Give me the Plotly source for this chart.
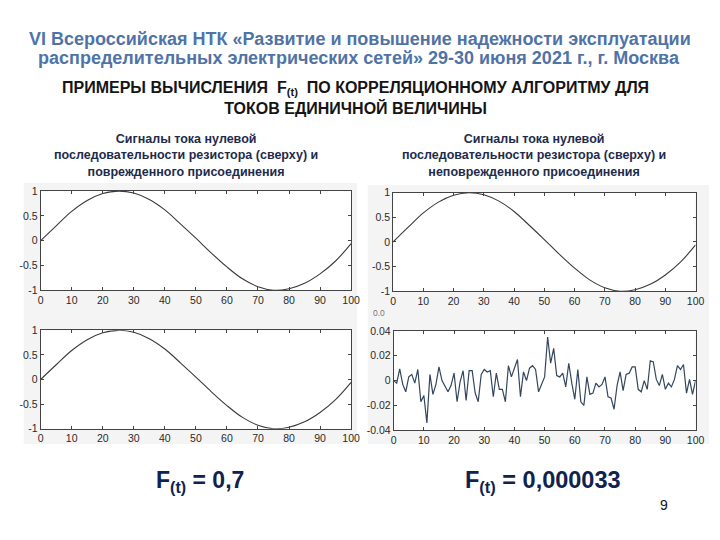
import plotly.graph_objects as go

# ---- data ----
x_sine = [0, 5, 10, 15, 20, 25, 30, 35, 40, 45, 50, 55, 60, 65, 70, 75, 80, 85, 90, 95, 100]
sine_resistor = [0.0, 0.30, 0.59, 0.81, 0.95, 1.0, 0.96, 0.83, 0.62, 0.34, 0.05, -0.25, -0.53,
                 -0.77, -0.93, -1.0, -0.97, -0.86, -0.67, -0.41, -0.06]
sine_faulted = [0.0, 0.30, 0.59, 0.81, 0.95, 1.0, 0.96, 0.83, 0.62, 0.34, 0.05, -0.25, -0.53,
                -0.77, -0.93, -1.0, -0.97, -0.86, -0.67, -0.41, -0.06]

x_noise = list(range(0, 101))
noise_healthy = [0.0, -0.002, 0.0095, -0.003, -0.009, 0.003, 0.005, -0.002, 0.009, -0.017,
                 -0.012, -0.034, 0.005, -0.011, -0.003, 0.011, 0.0, -0.005, -0.009, -0.004,
                 0.006, -0.017, -0.001, 0.008, -0.016, 0.008, 0.008, -0.010, -0.017, 0.005,
                 0.009, 0.007, 0.008, -0.013, 0.006, -0.007, -0.007, -0.017, 0.012, 0.003,
                 0.010, 0.017, -0.013, 0.007, 0.0, 0.010, 0.012, 0.009, -0.009, -0.003,
                 0.003, 0.035, 0.014, 0.026, 0.004, 0.003, 0.006, -0.005, 0.014, -0.002,
                 -0.015, 0.009, -0.017, -0.020, 0.003, -0.011, -0.010, -0.002, -0.005, -0.003,
                 0.003, -0.013, -0.014, -0.023, -0.004, 0.007, -0.008, 0.005, 0.006, 0.011,
                 0.011, -0.007, -0.009, 0.0, -0.007, 0.016, 0.015, 0.001, -0.004, 0.005,
                 -0.007, -0.002, -0.005, 0.001, 0.012, 0.009, 0.013, -0.010, 0.001, -0.011, 0.0]

x_ticks = [0, 10, 20, 30, 40, 50, 60, 70, 80, 90, 100]
sine_ticks = [-1, -0.5, 0, 0.5, 1]
sine_tick_text = ["-1", "-0.5", "0", "0.5", "1"]
noise_ticks = [-0.04, -0.02, 0, 0.02, 0.04]
noise_tick_text = ["-0.04", "-0.02", "0", "0.02", "0.04"]

title_line1 = "VI Всероссийская НТК «Развитие и повышение надежности эксплуатации"
title_line2 = "распределительных электрических сетей» 29-30 июня 2021 г., г. Москва"
subtitle = ("ПРИМЕРЫ ВЫЧИСЛЕНИЯ  F<sub>(t)</sub>  ПО КОРРЕЛЯЦИОННОМУ АЛГОРИТМУ ДЛЯ"
            "<br>ТОКОВ ЕДИНИЧНОЙ ВЕЛИЧИНЫ")
left_header = "Сигналы тока нулевой<br>последовательности резистора (сверху) и<br>поврежденного присоединения"
right_header = "Сигналы тока нулевой<br>последовательности резистора (сверху) и<br>неповрежденного присоединения"
left_result = "F<sub>(t)</sub> = 0,7"
right_result = "F<sub>(t)</sub> = 0,000033"
page_number = "9"

# ---- figure ----
W, H = 720, 540


def px_x(p):
    return p / W


def px_y(p):
    return 1 - p / H


fig = go.Figure()

line_sine = dict(color="#3a3a3a", width=1.1, shape="spline")
fig.add_trace(go.Scatter(x=x_sine, y=sine_resistor, mode="lines", line=line_sine,
                         xaxis="x", yaxis="y", showlegend=False))
fig.add_trace(go.Scatter(x=x_sine, y=sine_resistor, mode="lines", line=line_sine,
                         xaxis="x2", yaxis="y2", showlegend=False))
fig.add_trace(go.Scatter(x=x_sine, y=sine_faulted, mode="lines", line=line_sine,
                         xaxis="x3", yaxis="y3", showlegend=False))
fig.add_trace(go.Scatter(x=x_noise, y=noise_healthy, mode="lines", line=dict(color="#34465e", width=1.2),
                         xaxis="x4", yaxis="y4", showlegend=False))

tickfont = dict(family="Liberation Sans, Arial, sans-serif", size=10.5, color="#2a2a2a")


def xaxis_cfg(l, r, anchor):
    return dict(domain=[px_x(l), px_x(r)], anchor=anchor, range=[0, 100], tickvals=x_ticks,
                ticks="inside", ticklen=3, tickcolor="#444", mirror="ticks", showline=True,
                linecolor="#444", linewidth=1, showgrid=False, zeroline=False, tickfont=tickfont,
                fixedrange=True)


def yaxis_cfg(t, b, anchor, rng, vals, text):
    return dict(domain=[px_y(b), px_y(t)], anchor=anchor, range=rng, tickvals=vals, ticktext=text,
                ticks="inside", ticklen=3, tickcolor="#444", mirror="ticks", showline=True,
                linecolor="#444", linewidth=1, showgrid=False, zeroline=False, tickfont=tickfont,
                fixedrange=True)


plots = [(38.3, 189.3, 354, 290.7), (396.7, 191, 704.3, 291.7),
         (38.3, 331.7, 354, 432.3), (397.3, 332.3, 704.3, 434)]

fig.update_layout(
    width=W, height=H, margin=dict(l=0, r=0, t=0, b=0),
    paper_bgcolor="white", plot_bgcolor="rgba(0,0,0,0)",
    xaxis=xaxis_cfg(38.3, 354, "y"),
    yaxis=yaxis_cfg(189.3, 290.7, "x", [-1, 1], sine_ticks, sine_tick_text),
    xaxis2=xaxis_cfg(396.7, 704.3, "y2"),
    yaxis2=yaxis_cfg(191, 291.7, "x2", [-1, 1], sine_ticks, sine_tick_text),
    xaxis3=xaxis_cfg(38.3, 354, "y3"),
    yaxis3=yaxis_cfg(331.7, 432.3, "x3", [-1, 1], sine_ticks, sine_tick_text),
    xaxis4=xaxis_cfg(397.3, 704.3, "y4"),
    yaxis4=yaxis_cfg(332.3, 434, "x4", [-0.04, 0.04], noise_ticks, noise_tick_text),
)

# light grey image backgrounds, then white plot areas on top
for (x0, y0, x1, y1) in [(21, 181, 360, 448), (371, 183, 718, 448)]:
    fig.add_shape(type="rect", xref="paper", yref="paper", x0=px_x(x0), x1=px_x(x1),
                  y0=px_y(y1), y1=px_y(y0), fillcolor="#f4f4f4", line=dict(width=0), layer="below")
for (x0, y0, x1, y1) in plots:
    fig.add_shape(type="rect", xref="paper", yref="paper", x0=px_x(x0), x1=px_x(x1),
                  y0=px_y(y1), y1=px_y(y0), fillcolor="white", line=dict(width=0), layer="below")

blue = "#4f73a6"
navy = "#1d2b4d"


def ann(text, x, y, size, color, family="Liberation Sans, Arial, sans-serif", bold=True):
    t = f"<b>{text}</b>" if bold else text
    fig.add_annotation(text=t, x=px_x(x), y=px_y(y), xref="paper", yref="paper", showarrow=False,
                       xanchor="center", yanchor="middle", align="center",
                       font=dict(family=family, size=size, color=color))


ann(title_line1, 363, 34, 18, blue)
ann(title_line2, 362, 53, 18, blue)
ann(subtitle, 358, 94, 16, "#151515", family="Liberation Sans Narrow, Arial Narrow, Liberation Sans, sans-serif")
ann(left_header, 186, 153, 12.5, navy)
ann(right_header, 540, 153, 12.5, navy)
ann(left_result, 200, 486, 23, "#10224e")
ann(right_result, 549, 486, 23.5, "#10224e")
ann(page_number, 672, 510, 14, "#111111", bold=False)
ann("0.0", 382, 314, 8.5, "#777777", bold=False)

fig.write_html("out.html")
